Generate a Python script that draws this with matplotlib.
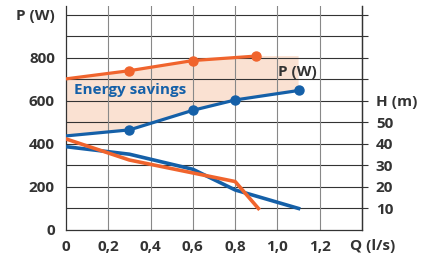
import matplotlib
matplotlib.use("Agg")
from matplotlib import pyplot as plt
from matplotlib import transforms

plt.rcParams['font.family'] = ['Open Sans', 'DejaVu Sans']
plt.rcParams['font.weight'] = 'bold'

# power curves (W)
q_p_old = [0, 0.3, 0.6, 0.9]
p_old = [702, 740, 787, 808]
q_p_new = [0, 0.3, 0.6, 0.8, 1.1]
p_new = [437, 465, 556, 604, 648]

# head curves (m)
q_h_old = [0, 0.3, 0.8, 0.91]
h_old = [42.3, 32.5, 22.5, 10]
q_h_new = [0, 0.3, 0.6, 0.8, 1.1]
h_new = [38.7, 35.2, 28.2, 18.6, 10]

x_ticks = [0, 0.2, 0.4, 0.6, 0.8, 1.0, 1.2]
x_labels = ['0', '0,2', '0,4', '0,6', '0,8', '1,0', '1,2']
p_ticks = [0, 200, 400, 600, 800, 1000]
p_labels = ['0', '200', '400', '600', '800', 'P (W)']
h_ticks = [10, 20, 30, 40, 50, 60]
h_labels = ['10', '20', '30', '40', '50', 'H (m)']

orange = '#f0642d'
blue = '#1560a8'
fill = '#fadccb'
txt = '#333333'

fig = plt.figure(figsize=(4.27, 2.54), dpi=100)
ax = fig.add_axes([0.1546, 0.0945, 0.6932, 0.8815])
ax.set_xlim(0, 1.4)
ax.set_ylim(0, 1040)

# grid
for y in range(100, 1100, 100):
    ax.axhline(y, color='#333333', lw=0.8, zorder=1)
for x in x_ticks[1:]:
    ax.axvline(x, color='#888888', lw=0.8, zorder=1)

# shaded savings area between the two power curves
fill_q = q_p_old + [q_p_new[-1], q_p_new[-1]] + q_p_new[::-1]
fill_p = p_old + [p_old[-1], p_new[-1]] + p_new[::-1]
ax.fill(fill_q, fill_p, color=fill, alpha=0.85, lw=0, zorder=0.5)

ax.plot(q_p_old, p_old, color=orange, lw=2.3, zorder=3)
ax.plot(q_p_old[1:], p_old[1:], 'o', color=orange, ms=6.5, zorder=4)
ax.plot(q_p_new, p_new, color=blue, lw=2.3, zorder=3)
ax.plot(q_p_new[1:], p_new[1:], 'o', color=blue, ms=6.5, zorder=4)

ax.text(0.04, 651, 'Energy savings', color=blue, fontsize=11, fontweight='bold',
        ha='left', va='center', zorder=5)
ax.text(1.092, 735, 'P (W)', color=txt, fontsize=11, fontweight='bold',
        ha='center', va='center', zorder=5)

ax.set_xticks(x_ticks)
ax.set_xticklabels(x_labels)
ax.set_yticks(p_ticks)
ax.set_yticklabels(p_labels)
ax.tick_params(axis='both', length=0, labelsize=11, colors=txt)
ax.tick_params(axis='x', pad=7)
ax.tick_params(axis='y', pad=8)
for lab in ax.get_xticklabels() + ax.get_yticklabels():
    lab.set_fontweight('bold')

trans = transforms.blended_transform_factory(ax.transData, ax.transAxes)
ax.text(1.45, -0.04, 'Q (l/s)', transform=trans, ha='center', va='top',
        fontsize=11, fontweight='bold', color=txt)

ax.spines['top'].set_visible(False)
for s in ['left', 'bottom', 'right']:
    ax.spines[s].set_color('#333333')
    ax.spines[s].set_linewidth(0.9)

# head axis on the right
ax2 = ax.twinx()
ax2.set_ylim(0, 104)
ax2.plot(q_h_new, h_new, color=blue, lw=2.6, zorder=3)
ax2.plot(q_h_old, h_old, color=orange, lw=2.6, zorder=3)
ax2.set_yticks(list(range(10, 101, 10)))
ax2.set_yticklabels(h_labels + [''] * 4)
ax2.tick_params(axis='y', length=4, width=0.8, color='#333333', pad=6,
                labelsize=11, labelcolor=txt)
for lab in ax2.get_yticklabels():
    lab.set_fontweight('bold')
for s in ['top', 'left', 'bottom']:
    ax2.spines[s].set_visible(False)
ax2.spines['right'].set_color('#333333')
ax2.spines['right'].set_linewidth(0.9)

fig.savefig('out.png', dpi=100)
